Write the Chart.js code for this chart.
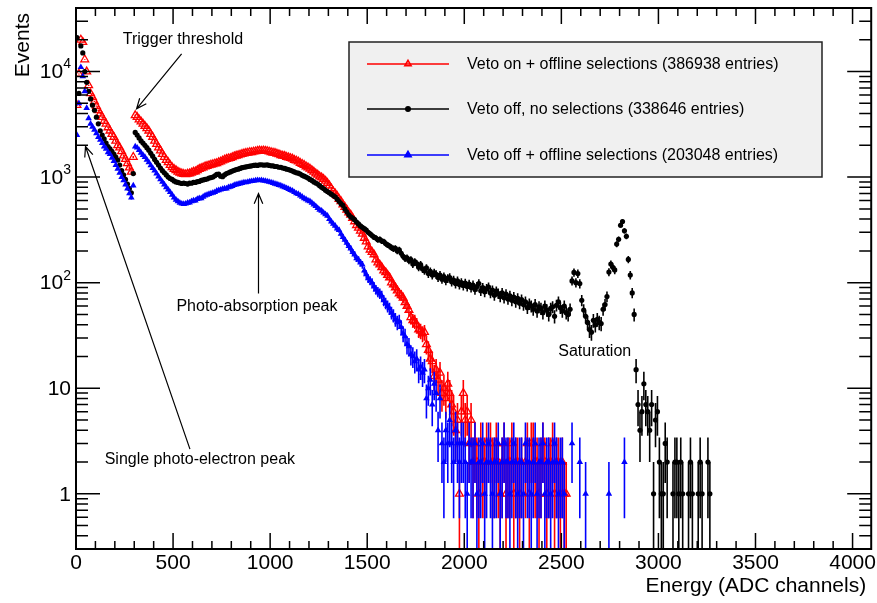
<!DOCTYPE html>
<html lang="en">
<head>
<meta charset="UTF-8" />
<title>Energy spectrum</title>
<script src="https://cdn.jsdelivr.net/npm/chart.js"></script>
<style>
  html, body { margin: 0; padding: 0; background: #fff; }
  #wrap { width: 877px; height: 603px; }
</style>
</head>
<body>
<div id="wrap"><canvas id="spectrum" width="877" height="603"></canvas></div>

<script>
  // histogram bins, 10 ADC channels each, first bin starts at 0
  const binWidth = 10

  // Veto on + offline selections (null = empty bin), one row = 100 channels
  const vetoOnSel = [
    4800, 9500, 20000, 19000, 13000, 10000, 7400, 6200, 5700, 5200,
    4700, 4300, 4000, 3700, 3400, 3200, 2950, 2750, 2550, 2400,
    2200, 2000, 1900, 1750, 1600, 1480, 1350, 1230, 1120, 1550,
    3850, 3700, 3500, 3350, 3200, 3050, 2900, 2750, 2550, 2400,
    2200, 2050, 1900, 1780, 1650, 1550, 1450, 1380, 1300, 1240,
    1190, 1160, 1120, 1100, 1080, 1070, 1060, 1075, 1080, 1100,
    1120, 1130, 1160, 1190, 1210, 1230, 1260, 1270, 1290, 1310,
    1320, 1340, 1350, 1380, 1400, 1430, 1460, 1480, 1500, 1510,
    1540, 1570, 1590, 1610, 1630, 1650, 1670, 1690, 1700, 1720,
    1720, 1740, 1750, 1770, 1780, 1770, 1780, 1770, 1760, 1740,
    1720, 1700, 1690, 1660, 1640, 1610, 1590, 1580, 1550, 1530,
    1510, 1490, 1450, 1430, 1400, 1360, 1330, 1300, 1260, 1230,
    1200, 1160, 1120, 1080, 1050, 1010, 990, 960, 920, 880,
    830, 780, 730, 700, 660, 620, 590, 550, 520, 490,
    460, 440, 410, 380, 350, 330, 310, 290, 265, 245,
    220, 205, 195, 185, 165, 155, 148, 140, 130, 125,
    118, 112, 100, 96, 90, 84, 79, 76, 72, 65,
    60, 55, 47, 44, 43, 40, 36, 35, 33, 34,
    26, 23, 19, 18, 13, 15, 12, 14, 9, 10,
    8, 11, 9, 7, 6, 4, 5, 1, 6, 9,
    5, 6, 3, 5, 2, 3, 2, 1, 3, 2,
    2, 3, null, 3, 2, 2, 3, 2, 1, 2,
    3, 1, 2, 2, 3, 1, 2, 2, 1, 2,
    null, 2, 3, 1, 3, 3, 2, 2, 1, 2,
    3, 2, 1, 2, 2, 3, 1, 2, 2, 1,
    2, 1, 1
  ]

  // Veto off, no selections
  const vetoOffAll = [
    21000, 6200, 17500, 15000, 10000, 7900, 6500, 5500, 4800, 4300,
    3700, 3200, 2750, 2500, 2300, 2100, 1950, 1850, 1750, 1650,
    1550, 1450, 1300, 1150, 1050, 950, 860, 780, 710, 1080,
    2650, 2500, 2350, 2200, 2100, 2000, 1900, 1800, 1680, 1580,
    1470, 1380, 1300, 1220, 1150, 1100, 1050, 1000, 970, 950,
    920, 900, 890, 880, 870, 880, 870, 860, 880, 875,
    890, 890, 905, 910, 930, 940, 950, 960, 980, 990,
    1000, 1030, 1060, 1070, 1020, 1010, 1050, 1080, 1100, 1120,
    1140, 1160, 1180, 1190, 1210, 1230, 1240, 1250, 1260, 1270,
    1280, 1290, 1300, 1290, 1310, 1310, 1300, 1300, 1310, 1290,
    1280, 1280, 1260, 1260, 1240, 1240, 1220, 1210, 1190, 1180,
    1160, 1140, 1120, 1100, 1090, 1070, 1040, 1020, 1000, 980,
    950, 930, 900, 880, 860, 830, 800, 780, 750, 730,
    710, 690, 670, 650, 620, 590, 560, 540, 500, 470,
    440, 420, 410, 395, 375, 360, 345, 335, 325, 315,
    300, 290, 280, 270, 265, 255, 258, 248, 245, 235,
    228, 222, 215, 210, 212, 200, 205, 190, 178, 170,
    172, 162, 165, 150, 158, 152, 140, 148, 135, 130,
    138, 122, 128, 118, 124, 120, 112, 118, 108, 114,
    105, 110, 112, 102, 106, 98, 104, 96, 100, 94,
    99, 92, 97, 90, 95, 86, 92, 98, 84, 90,
    82, 88, 91, 80, 85, 76, 83, 79, 74, 80,
    72, 78, 70, 75, 68, 73, 66, 71, 64, 69,
    62, 66, 58, 63, 60, 56, 62, 54, 59, 57,
    52, 60, 55, 50, 57, 59, 48, 61, 66, 58,
    54, 60, 52, 50, 56, 104, 125, 100, 122, 98,
    68, 55, 48, 42, 36, 34, 44, 40, 45, 42,
    41, 56, 62, 74, 126, 150, 140, 132, 232, 258,
    350, 380, 310, 275, 166, 118, 80, 50, 15, 7,
    4, 6, 11, 7, 6, 4, 7, 1, 5, 6,
    2, 1, 1, 3, 2, null, null, 1, 2, 2,
    1, 2, 1, null, null, 1, 2, 1, null, null,
    1, 2, 1, null, null, 2, 1
  ]

  // Veto off + offline selections
  const vetoOffSel = [
    2500, 5000, 11000, 9000, 6500, 4500, 3600, 3200, 3000, 2800,
    2600, 2400, 2250, 2100, 1950, 1850, 1720, 1650, 1520, 1420,
    1300, 1200, 1100, 1000, 930, 850, 780, 700, 640, 830,
    1950, 1900, 1800, 1700, 1620, 1550, 1460, 1380, 1290, 1220,
    1150, 1080, 1010, 950, 900, 850, 800, 760, 720, 680,
    640, 610, 590, 570, 560, 555, 560, 570, 575, 590,
    600, 600, 620, 630, 630, 650, 670, 680, 690, 700,
    710, 720, 740, 750, 760, 770, 780, 780, 800, 810,
    820, 840, 850, 860, 870, 880, 890, 890, 900, 910,
    915, 920, 930, 935, 930, 935, 925, 920, 910, 900,
    890, 880, 865, 855, 840, 830, 815, 800, 785, 770,
    755, 740, 720, 700, 690, 670, 650, 630, 615, 600,
    590, 570, 550, 530, 510, 490, 480, 460, 445, 430,
    400, 380, 360, 345, 325, 315, 290, 270, 255, 238,
    222, 210, 195, 185, 170, 165, 155, 148, 130, 120,
    110, 105, 100, 92, 86, 82, 79, 75, 68, 64,
    60, 57, 52, 49, 45, 42, 43, 38, 33, 31,
    26, 25, 21, 20, 18, 19, 15, 16, 14, 15,
    8, 10, 12, 7, 11, 9, 4, 8, 3, 2,
    4, 3, 5, 3, 2, 4, 3, 2, 3, 3,
    2, 1, 3, 2, 2, 3, 1, 2, 2, 3,
    1, 2, 3, 2, 1, 2, 2, 3, 1, 2,
    3, 2, 2, 1, 2, 3, 2, 1, 2, 2,
    1, 3, 2, 2, 1, 2, 3, 1, 2, 2,
    3, 1, 2, 2, 1, 2, 3, 2, 1, 2,
    2, 1, null, null, null, 3, null, null, null, 2,
    null, null, 1, null, null, null, null, null, null, null,
    null, null, null, null, 1, null, null, null, null, null,
    null, null, 2
  ]

  const seriesLabels = [
    "Veto on + offline selections (386938 entries)",
    "Veto off, no selections (338646 entries)",
    "Veto off + offline selections (203048 entries)"
  ]

  const xTickLabels = [0, 500, 1000, 1500, 2000, 2500, 3000, 3500, 4000]
  const yTickExponents = [0, 1, 2, 3, 4] // 1, 10, 10^2 ...

  // text notes and arrows, in data coordinates (channel, events)
  const notes = [
    { text: "Trigger threshold", x: 551, y: 20100 },
    { text: "Photo-absorption peak", x: 932, y: 60 },
    { text: "Single photo-electron peak", x: 638, y: 2.09 },
    { text: "Saturation", x: 2672, y: 22.4 }
  ]
  const arrows = [
    { from: [544, 14700], to: [312, 4440] },
    { from: [940, 79], to: [940, 697] },
    { from: [587, 2.65], to: [49, 1950] }
  ]

  const FONT = '"Liberation Sans", Arial, Helvetica, sans-serif'

  function toPoints(values) {
    const pts = []
    for (let i = 0; i < values.length; i++) {
      if (values[i] === null) continue
      pts.push({ x: i * binWidth + binWidth / 2, y: values[i] })
    }
    return pts
  }

  // sqrt(N) bars, drawn just under each set of markers
  const errorBars = {
    id: "errorBars",
    beforeDatasetDraw(chart, args) {
      const ds = chart.data.datasets[args.index]
      const xs = chart.scales.x, ys = chart.scales.y
      const a = chart.chartArea
      const ctx = chart.ctx
      ctx.save()
      ctx.beginPath()
      ctx.rect(a.left, a.top, a.right - a.left, a.bottom - a.top)
      ctx.clip()
      ctx.strokeStyle = ds.borderColor
      ctx.lineWidth = 1.6
      ctx.beginPath()
      ds.data.forEach(function (p) {
        const err = Math.sqrt(p.y)
        const px = xs.getPixelForValue(p.x)
        const top = ys.getPixelForValue(p.y + err)
        const bottom = p.y - err > 0 ? ys.getPixelForValue(p.y - err) : a.bottom
        ctx.moveTo(px, top)
        ctx.lineTo(px, bottom)
      })
      ctx.stroke()
      ctx.restore()
    }
  }

  // frame, inward ticks on all four sides, labels, titles
  const rootAxes = {
    id: "rootAxes",
    afterDraw(chart) {
      const ctx = chart.ctx, a = chart.chartArea
      const xs = chart.scales.x, ys = chart.scales.y
      ctx.save()
      ctx.strokeStyle = "#000"
      ctx.lineWidth = 1.5
      ctx.beginPath()
      for (let v = 0; v <= xs.max; v += 100) {
        const px = xs.getPixelForValue(v)
        const len = v % 500 === 0 ? 16 : 8
        ctx.moveTo(px, a.bottom); ctx.lineTo(px, a.bottom - len)
        ctx.moveTo(px, a.top); ctx.lineTo(px, a.top + len)
      }
      for (let e = -1; e <= 4; e++) {
        for (let m = 1; m <= 9; m++) {
          const v = m * Math.pow(10, e)
          if (v < ys.min || v > ys.max) continue
          const py = ys.getPixelForValue(v)
          const len = m === 1 ? 24 : 12
          ctx.moveTo(a.left, py); ctx.lineTo(a.left + len, py)
          ctx.moveTo(a.right, py); ctx.lineTo(a.right - len, py)
        }
      }
      ctx.stroke()

      ctx.lineWidth = 2
      ctx.strokeRect(a.left, a.top, a.right - a.left, a.bottom - a.top)

      ctx.fillStyle = "#000"
      ctx.font = "21px " + FONT
      ctx.textAlign = "center"
      ctx.textBaseline = "top"
      xTickLabels.forEach(function (v) {
        ctx.fillText(String(v), xs.getPixelForValue(v), a.bottom + 4)
      })

      ctx.textBaseline = "middle"
      yTickExponents.forEach(function (e) {
        const py = ys.getPixelForValue(Math.pow(10, e))
        const right = a.left - 5
        ctx.textAlign = "right"
        if (e < 2) {
          ctx.font = "21px " + FONT
          ctx.fillText(e === 0 ? "1" : "10", right, py + 1)
        } else {
          ctx.font = "14px " + FONT
          const supW = ctx.measureText(String(e)).width
          ctx.fillText(String(e), right, py - 7)
          ctx.font = "21px " + FONT
          ctx.fillText("10", right - supW, py + 1)
        }
      })

      ctx.font = "21px " + FONT
      ctx.textAlign = "right"
      ctx.textBaseline = "alphabetic"
      ctx.fillText("Energy (ADC channels)", a.right - 5, 592)

      ctx.save()
      ctx.translate(29, a.top + 5)
      ctx.rotate(-Math.PI / 2)
      ctx.textAlign = "right"
      ctx.fillText("Events", 0, 0)
      ctx.restore()
      ctx.restore()
    }
  }

  // annotations and the legend box
  const extras = {
    id: "extras",
    afterDraw(chart) {
      const ctx = chart.ctx
      const xs = chart.scales.x, ys = chart.scales.y
      ctx.save()
      ctx.fillStyle = "#000"
      ctx.font = "16px " + FONT
      ctx.textAlign = "center"
      ctx.textBaseline = "middle"
      notes.forEach(function (n) {
        ctx.fillText(n.text, xs.getPixelForValue(n.x), ys.getPixelForValue(n.y))
      })

      ctx.strokeStyle = "#000"
      ctx.lineWidth = 1.2
      arrows.forEach(function (ar) {
        const x1 = xs.getPixelForValue(ar.from[0]), y1 = ys.getPixelForValue(ar.from[1])
        const x2 = xs.getPixelForValue(ar.to[0]), y2 = ys.getPixelForValue(ar.to[1])
        const ang = Math.atan2(y2 - y1, x2 - x1)
        ctx.beginPath()
        ctx.moveTo(x1, y1)
        ctx.lineTo(x2, y2)
        ctx.moveTo(x2 - 11 * Math.cos(ang - 0.4), y2 - 11 * Math.sin(ang - 0.4))
        ctx.lineTo(x2, y2)
        ctx.lineTo(x2 - 11 * Math.cos(ang + 0.4), y2 - 11 * Math.sin(ang + 0.4))
        ctx.stroke()
      })

      // legend
      const box = { left: 349, top: 42, right: 822, bottom: 177 }
      ctx.fillStyle = "#f0f0f0"
      ctx.fillRect(box.left, box.top, box.right - box.left, box.bottom - box.top)
      ctx.strokeStyle = "#222"
      ctx.lineWidth = 1.5
      ctx.strokeRect(box.left, box.top, box.right - box.left, box.bottom - box.top)

      const rows = [64, 109, 155]
      chart.data.datasets.forEach(function (ds, i) {
        const y = rows[i]
        ctx.strokeStyle = ds.borderColor
        ctx.lineWidth = 1.6
        ctx.beginPath()
        ctx.moveTo(367, y)
        ctx.lineTo(449, y)
        ctx.stroke()
        ctx.fillStyle = ds.backgroundColor
        Chart.helpers.drawPoint(ctx, {
          pointStyle: ds.pointStyle,
          radius: ds.pointStyle === "circle" ? 2.2 : 3.6,
          rotation: 0,
          borderWidth: 1.3
        }, 408, y)
        ctx.fillStyle = "#000"
        ctx.font = "16px " + FONT
        ctx.textAlign = "left"
        ctx.textBaseline = "middle"
        ctx.fillText(ds.label, 467, y + 1)
      })
      ctx.restore()
    }
  }

  const ctx = document.getElementById("spectrum").getContext("2d")

  new Chart(ctx, {
    type: "scatter",
    data: {
      datasets: [
        {
          label: seriesLabels[0],
          data: toPoints(vetoOnSel),
          borderColor: "#ff0000",
          backgroundColor: "rgba(0,0,0,0)",
          pointStyle: "triangle",
          pointRadius: 4.5,
          pointBorderWidth: 1.3,
          order: 3
        },
        {
          label: seriesLabels[1],
          data: toPoints(vetoOffAll),
          borderColor: "#000000",
          backgroundColor: "#000000",
          pointStyle: "circle",
          pointRadius: 2.6,
          pointBorderWidth: 0,
          order: 2
        },
        {
          label: seriesLabels[2],
          data: toPoints(vetoOffSel),
          borderColor: "#0000ff",
          backgroundColor: "#0000ff",
          pointStyle: "triangle",
          pointRadius: 3.8,
          pointBorderWidth: 0,
          order: 1
        }
      ]
    },
    options: {
      responsive: false,
      animation: false,
      devicePixelRatio: 1,
      events: [],
      layout: { padding: { left: 76, top: 8, right: 5, bottom: 54 } },
      scales: {
        x: { type: "linear", min: 0, max: 4096, display: false },
        y: { type: "logarithmic", min: 0.3, max: 40000, display: false }
      },
      plugins: {
        legend: { display: false },
        tooltip: { enabled: false }
      }
    },
    plugins: [errorBars, rootAxes, extras]
  })
</script>
</body>
</html>
